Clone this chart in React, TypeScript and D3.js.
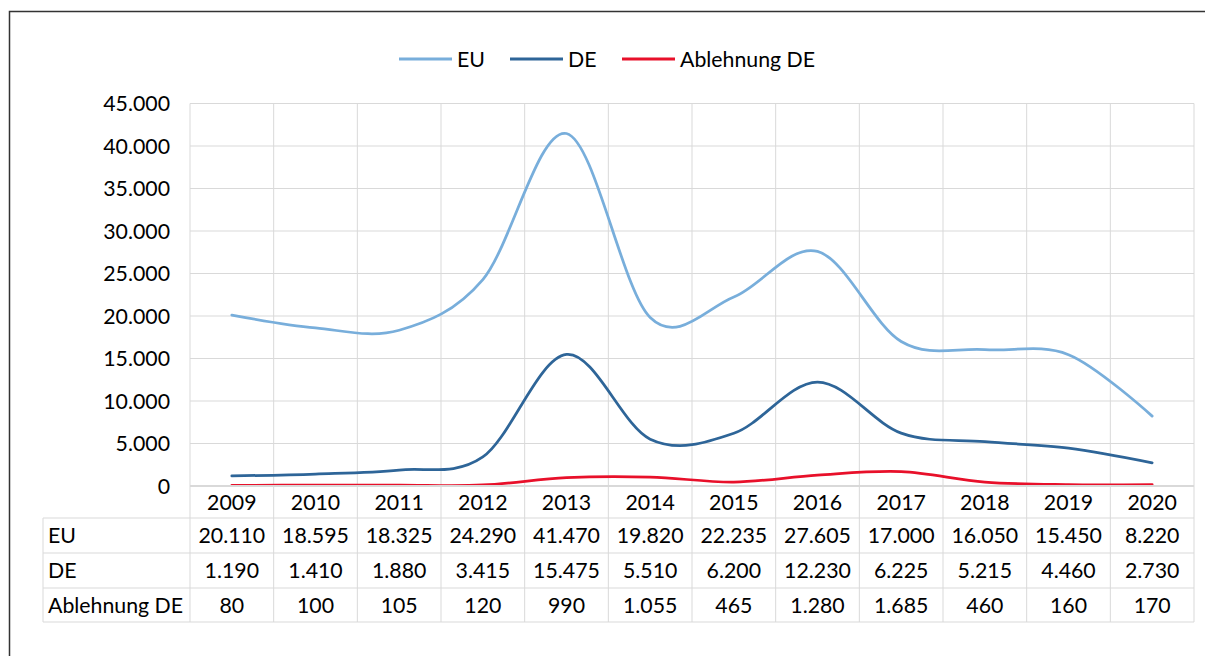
import React from 'react';
import * as d3 from 'd3';

const years = ['2009', '2010', '2011', '2012', '2013', '2014', '2015', '2016', '2017', '2018', '2019', '2020'];
const euValues = [20110, 18595, 18325, 24290, 41470, 19820, 22235, 27605, 17000, 16050, 15450, 8220];
const deValues = [1190, 1410, 1880, 3415, 15475, 5510, 6200, 12230, 6225, 5215, 4460, 2730];
const rejectValues = [80, 100, 105, 120, 990, 1055, 465, 1280, 1685, 460, 160, 170];
const yTicks = [0, 5000, 10000, 15000, 20000, 25000, 30000, 35000, 40000, 45000];

const seriesList = [
  { name: 'EU', values: euValues, color: '#78aedb' },
  { name: 'DE', values: deValues, color: '#2e6598' },
  { name: 'Ablehnung DE', values: rejectValues, color: '#e8102a' },
];

const de = d3.formatLocale({ decimal: ',', thousands: '.', grouping: [3], currency: ['', '€'] });
const fmt = de.format(',d');

const W = 1205;
const H = 656;
const left = 190;
const right = 1194;
const top = 103.5;
const zeroY = 486;
const tableLeft = 43;
const rowLines = [518, 553, 588, 622];
const font = 'Lato, "Noto Sans", sans-serif';
const fs = 21.3;

export default function App() {
  const x = d3.scaleBand<string>().domain(years).range([left, right]).paddingInner(0).paddingOuter(0);
  const bw = x.bandwidth();
  const cx = (yr: string) => (x(yr) as number) + bw / 2;
  const y = d3.scaleLinear().domain([0, 45000]).range([zeroY, top]);

  const line = d3
    .line<number>()
    .x((_, i) => cx(years[i]))
    .y((d) => y(d))
    .curve(d3.curveCatmullRom.alpha(0));

  const colEdges = years.map((yr) => x(yr) as number).concat([right]);

  // legend layout
  const legendItems = [
    { s: seriesList[0], x0: 399 },
    { s: seriesList[1], x0: 510 },
    { s: seriesList[2], x0: 622 },
  ];

  return (
    <svg
      width={W}
      height={H}
      style={{ position: 'absolute', left: 0, top: 0, display: 'block', background: '#fff' }}
      fontFamily={font}
    >
      <rect x={0} y={0} width={W} height={H} fill="#fff" />
      {/* outer chart frame */}
      <rect x={9.5} y={11.5} width={1400} height={900} fill="none" stroke="#333" strokeWidth={1.5} />

      {/* legend */}
      {legendItems.map(({ s, x0 }) => (
        <g key={s.name}>
          <line x1={x0} x2={x0 + 53} y1={59} y2={59} stroke={s.color} strokeWidth={3} />
          <text x={x0 + 58} y={66.5} fontSize={fs} fill="#000">
            {s.name}
          </text>
        </g>
      ))}

      {/* horizontal gridlines */}
      {yTicks.slice(1).map((t) => (
        <line key={t} x1={left} x2={right} y1={y(t)} y2={y(t)} stroke="#d9d9d9" strokeWidth={1} />
      ))}

      {/* vertical gridlines through plot and table */}
      {colEdges.map((e, i) => (
        <line key={i} x1={e} x2={e} y1={top} y2={rowLines[3]} stroke="#d9d9d9" strokeWidth={1} />
      ))}

      {/* table rows */}
      {rowLines.map((r) => (
        <line key={r} x1={tableLeft} x2={right} y1={r} y2={r} stroke="#d9d9d9" strokeWidth={1} />
      ))}
      <line x1={tableLeft} x2={tableLeft} y1={rowLines[0]} y2={rowLines[3]} stroke="#d9d9d9" strokeWidth={1} />

      {/* y axis labels */}
      {yTicks.map((t) => (
        <text key={t} x={170} y={y(t) + 7.5} textAnchor="end" fontSize={fs} fill="#000">
          {fmt(t)}
        </text>
      ))}

      {/* series lines */}
      {seriesList.map((s) => (
        <path key={s.name} d={line(s.values) || ''} fill="none" stroke={s.color} strokeWidth={2.75} strokeLinecap="round" />
      ))}

      {/* category axis line */}
      <line x1={left} x2={right} y1={zeroY} y2={zeroY} stroke="#d9d9d9" strokeWidth={2} />

      {/* year header row */}
      {years.map((yr) => (
        <text key={yr} x={cx(yr)} y={510} textAnchor="middle" fontSize={fs} fill="#000">
          {yr}
        </text>
      ))}

      {/* data table */}
      {seriesList.map((s, ri) => {
        const base = rowLines[ri] + (rowLines[ri + 1] - rowLines[ri]) / 2 + 7.5;
        return (
          <g key={s.name}>
            <text x={48} y={base} fontSize={fs} fill="#000">
              {s.name}
            </text>
            {s.values.map((v, i) => (
              <text key={i} x={cx(years[i])} y={base} textAnchor="middle" fontSize={fs} fill="#000">
                {fmt(v)}
              </text>
            ))}
          </g>
        );
      })}
    </svg>
  );
}
